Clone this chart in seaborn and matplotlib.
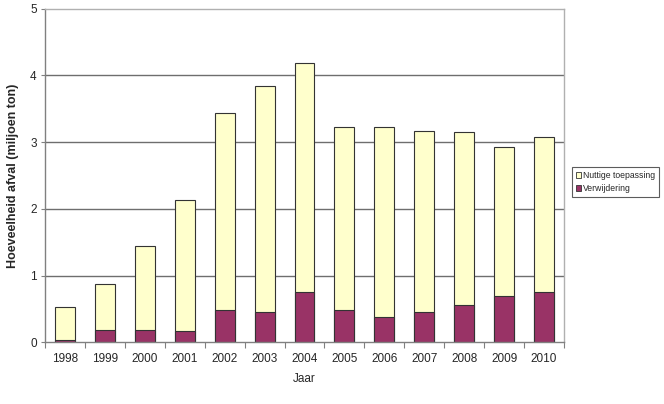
import matplotlib
matplotlib.use("Agg")
import matplotlib.pyplot as plt
import seaborn as sns
import pandas as pd
from matplotlib.patches import Patch

years = ["1998", "1999", "2000", "2001", "2002", "2003", "2004",
         "2005", "2006", "2007", "2008", "2009", "2010"]
verwijdering = [0.04, 0.18, 0.19, 0.17, 0.49, 0.46, 0.75, 0.48, 0.38, 0.45, 0.56, 0.70, 0.76]
nuttige = [0.49, 0.70, 1.26, 1.97, 2.94, 3.38, 3.43, 2.74, 2.85, 2.71, 2.59, 2.22, 2.32]

totaal = [v + n for v, n in zip(verwijdering, nuttige)]
df = pd.DataFrame({"Jaar": years, "Verwijdering": verwijdering, "Totaal": totaal})

sns.set_style("white")
plt.rcParams['font.family'] = ['Liberation Sans', 'DejaVu Sans']

fig = plt.figure(figsize=(6.64, 4.04), dpi=100)
ax = fig.add_axes([45/664, 1 - 342.3/404, (564-45)/664, (342.3-8.7)/404])

yellow = "#FFFFCC"
maroon = "#993366"

ax.set_axisbelow(True)
for y in [1, 2, 3, 4]:
    ax.axhline(y, color="#6e6e6e", lw=1.0, zorder=0)

sns.barplot(data=df, x="Jaar", y="Totaal", color=yellow, width=0.5,
            edgecolor="#333333", linewidth=0.8, saturation=1, ax=ax)
sns.barplot(data=df, x="Jaar", y="Verwijdering", color=maroon, width=0.5,
            edgecolor="#333333", linewidth=0.8, saturation=1, ax=ax)

ax.set_ylim(0, 5)
ax.set_xlim(-0.5, len(years) - 0.5)
ax.set_yticks([0, 1, 2, 3, 4, 5])
ax.set_yticklabels(["0", "1", "2", "3", "4", "5"])
ax.tick_params(axis="y", labelsize=8.5, length=3, width=0.8, color="#808080", left=True, pad=3)
ax.tick_params(axis="x", labelsize=8.5, bottom=False, pad=4)
ax.set_xticks(range(len(years)))
ax.set_xticklabels(years)
ax.set_xticks([i - 0.5 for i in range(len(years) + 1)], minor=True)
ax.tick_params(axis="x", which="minor", bottom=True, length=4, width=0.8, color="#808080")

for s in ["left", "bottom"]:
    ax.spines[s].set_color("#808080")
    ax.spines[s].set_linewidth(1.0)
for s in ["top", "right"]:
    ax.spines[s].set_color("#b0b0b0")
    ax.spines[s].set_linewidth(1.0)

ax.set_ylabel("Hoeveelheid afval (miljoen ton)", fontsize=9, fontweight="bold", labelpad=8)
ax.set_xlabel("Jaar", fontsize=8.5, labelpad=6)

handles = [Patch(facecolor=yellow, edgecolor="#333333", linewidth=0.6, label="Nuttige toepassing"),
           Patch(facecolor=maroon, edgecolor="#333333", linewidth=0.6, label="Verwijdering")]
leg = ax.legend(handles=handles, loc="upper left", bbox_to_anchor=(572/664, 1 - 167/404),
                bbox_transform=fig.transFigure, fontsize=6.2, frameon=True, fancybox=False,
                handlelength=0.6, handleheight=0.6, handletextpad=0.2, borderpad=0.45,
                labelspacing=0.5, borderaxespad=0)
leg.get_frame().set_edgecolor("#333333")
leg.get_frame().set_linewidth(0.8)

fig.savefig("out.png", dpi=100)
